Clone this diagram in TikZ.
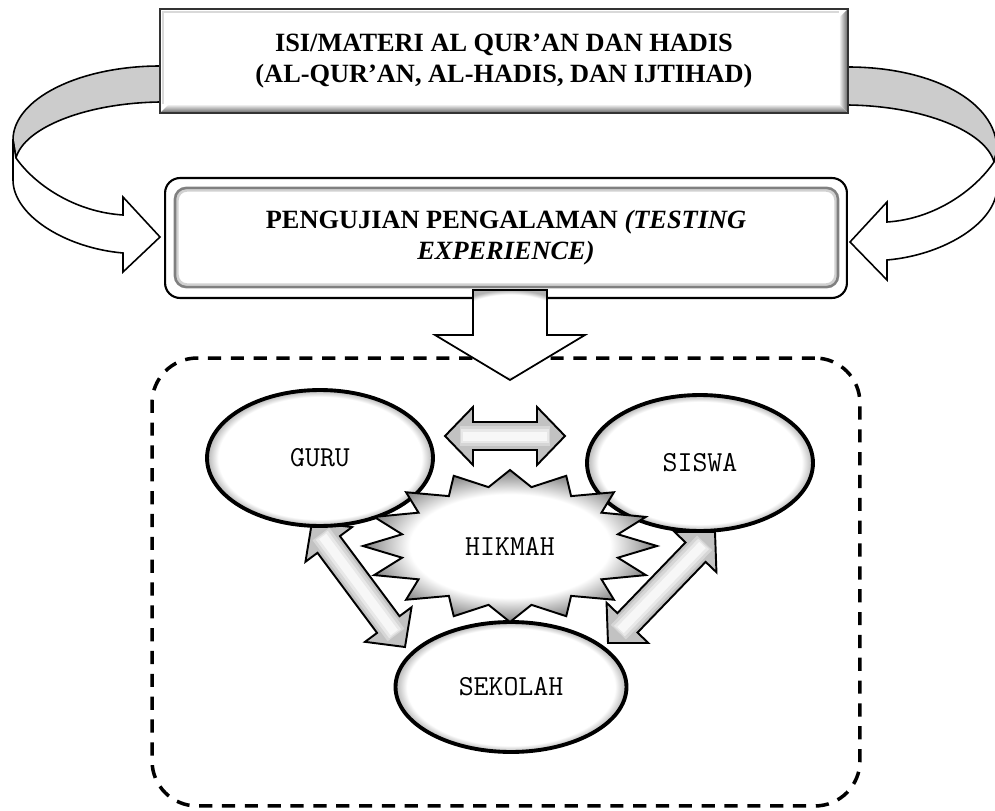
\documentclass[tikz,border=0pt]{standalone}
\usepackage{fontspec}
\setmainfont{Liberation Serif}
\usepackage{tikz}
\usetikzlibrary{calc,shapes.geometric}

\pgfdeclareradialshading{glow}{\pgfpoint{0bp}{0bp}}{color(0bp)=(white); color(22.5bp)=(white); color(25bp)=(black!30); color(50bp)=(black!30)}
\pgfdeclareradialshading{burstglow}{\pgfpoint{0bp}{0bp}}{color(0bp)=(white); color(17bp)=(white); color(25bp)=(black!50); color(50bp)=(black!50)}

\tikzset{
  judul/.style={font=\bfseries\fontsize{15}{17.6}\selectfont, align=center, fill=white, outer sep=0pt},
  label/.style={font=\ttfamily\fontsize{16.5}{19}\selectfont},
  pelaku/.style={ellipse, draw, line width=2.2pt, shade, shading=glow, minimum width=4.52cm, minimum height=2.72cm, label},
  panah/.style={draw, line width=1.1pt, fill=black!24, line join=miter},
  lengkung/.style={draw, line width=0.9pt},
}

% block arrow with a head at both ends
\newcommand{\duaarah}[2]{%
  \path ($(#1)!0.56cm!(#2)$) coordinate (ka) ($(#2)!0.56cm!(#1)$) coordinate (kb);
  \filldraw[panah] (#1) -- ($(ka)!0.58cm!90:(#2)$) -- ($(ka)!0.28cm!90:(#2)$)
    -- ($(kb)!0.28cm!-90:(#1)$) -- ($(kb)!0.58cm!-90:(#1)$) -- (#2)
    -- ($(kb)!0.58cm!90:(#1)$) -- ($(kb)!0.28cm!90:(#1)$)
    -- ($(ka)!0.28cm!-90:(#2)$) -- ($(ka)!0.58cm!-90:(#2)$) -- cycle;
  \draw[black!16, line width=0.42cm] ($(#1)!0.3cm!(#2)$) -- ($(#2)!0.3cm!(#1)$);
  \draw[black!9, line width=0.3cm] ($(#1)!0.33cm!(#2)$) -- ($(#2)!0.33cm!(#1)$);
  \draw[black!3, line width=0.18cm] ($(#1)!0.36cm!(#2)$) -- ($(#2)!0.36cm!(#1)$);
}

\begin{document}
\begin{tikzpicture}[x=0.02cm, y=-0.02cm]
  \useasboundingbox (0,0) rectangle (995,811);

  % curved arrows round the two boxes
  \filldraw[lengkung, fill=black!20] (160,66) .. controls (79,66) and (13,99) .. (13,140)
    -- (16,158) .. controls (24,128) and (85,103) .. (160,102) -- cycle;
  \filldraw[lengkung, fill=white] (13,140) -- (13,180) .. controls (13,215) and (65,248) .. (123,253)
    -- (123,272) -- (160,237) -- (123,197) -- (123,215) .. controls (75,212) and (35,185) .. (16,158) -- cycle;
  \filldraw[lengkung, fill=black!20] (848,67) .. controls (931,67) and (997,101) .. (997,150)
    -- (994,162) .. controls (986,132) and (925,106) .. (848,105) -- cycle;
  \filldraw[lengkung, fill=white] (997,150) -- (997,187) .. controls (997,222) and (945,255) .. (887,260)
    -- (887,280) -- (850,242) -- (887,202) -- (887,222) .. controls (935,219) and (975,190) .. (994,162) -- cycle;

  % top box
  \node[judul, draw=black!80, line width=1.2pt, minimum width=13.76cm, minimum height=2.08cm] (materi) at (504,61)
    {ISI/MATERI AL QUR’AN DAN HADIS\\(AL-QUR’AN, AL-HADIS, DAN IJTIHAD)};
  \shade[left color=white, right color=black!55] ($(materi.north east)+(-1,1)$) -- ($(materi.south east)+(-1,-1)$)
    -- ($(materi.south east)+(-9,-9)$) -- ($(materi.north east)+(-9,9)$) -- cycle;
  \shade[top color=white, bottom color=black!55] ($(materi.south west)+(1,-1)$) -- ($(materi.south east)+(-1,-1)$)
    -- ($(materi.south east)+(-9,-9)$) -- ($(materi.south west)+(9,-9)$) -- cycle;
  \draw[black!15, line width=1pt] ($(materi.south west)+(3,-9)$) -- ($(materi.north west)+(3,3)$) -- ($(materi.north east)+(-9,3)$);
  \draw[black!80, line width=1.2pt] (materi.north west) rectangle (materi.south east);

  % second box
  \node[judul, draw, line width=1.2pt, rounded corners=0.3cm, minimum width=13.64cm, minimum height=2.4cm] (uji) at (506,238)
    {PENGUJIAN PENGALAMAN \textit{(TESTING}\\\textit{EXPERIENCE)}};
  \draw[black!18, line width=3pt, rounded corners=0.22cm] ($(uji.north west)+(11,11)$) rectangle ($(uji.south east)+(-10,-12)$);
  \draw[black!50, line width=1.4pt, rounded corners=0.22cm] ($(uji.north west)+(10,10)$) rectangle ($(uji.south east)+(-9,-11)$);

  % dashed frame
  \node[draw, line width=2pt, dash pattern=on 7.5pt off 5.5pt, rounded corners=0.9cm,
        minimum width=14.16cm, minimum height=8.96cm] (konteks) at (506,582) {};

  % arrow down into the frame
  \coordinate (turun) at ($(uji.south)+(4,-8)$);
  \shadedraw[line width=1pt, shading=glow, shift={(turun)}] (-37,0) -- (37,0) -- (37,45) -- (75,45)
    -- (0,90) -- (-75,45) -- (-37,45) -- cycle;

  % two-way arrows
  \coordinate (g1) at (312,522);
  \coordinate (k1) at (405,647);
  \coordinate (s1) at (715,532);
  \coordinate (k2) at (608,643);
  \coordinate (g2) at (445,436);
  \coordinate (s2) at (565,436);
  \duaarah{g1}{k1}
  \duaarah{s1}{k2}
  \duaarah{g2}{s2}

  \node[pelaku] (guru) at (320,458) {GURU};
  \node[pelaku] (siswa) at (700,463) {SISWA};
  \node[pelaku, minimum width=4.62cm, minimum height=2.6cm] (sekolah) at (511,687) {SEKOLAH};

  % star in the middle
  \coordinate (pusat) at (510,546);
  \shadedraw[line width=1.1pt, shading=burstglow, shift={(pusat)}] (0:147 and 76)
    \foreach \k in {1,...,15} { -- ({\k*22.5-11.25}:110 and 60) -- ({\k*22.5}:147 and 76) }
    -- (348.75:110 and 60) -- cycle;
  \node[label] (hikmah) at (pusat) {HIKMAH};
\end{tikzpicture}
\end{document}
